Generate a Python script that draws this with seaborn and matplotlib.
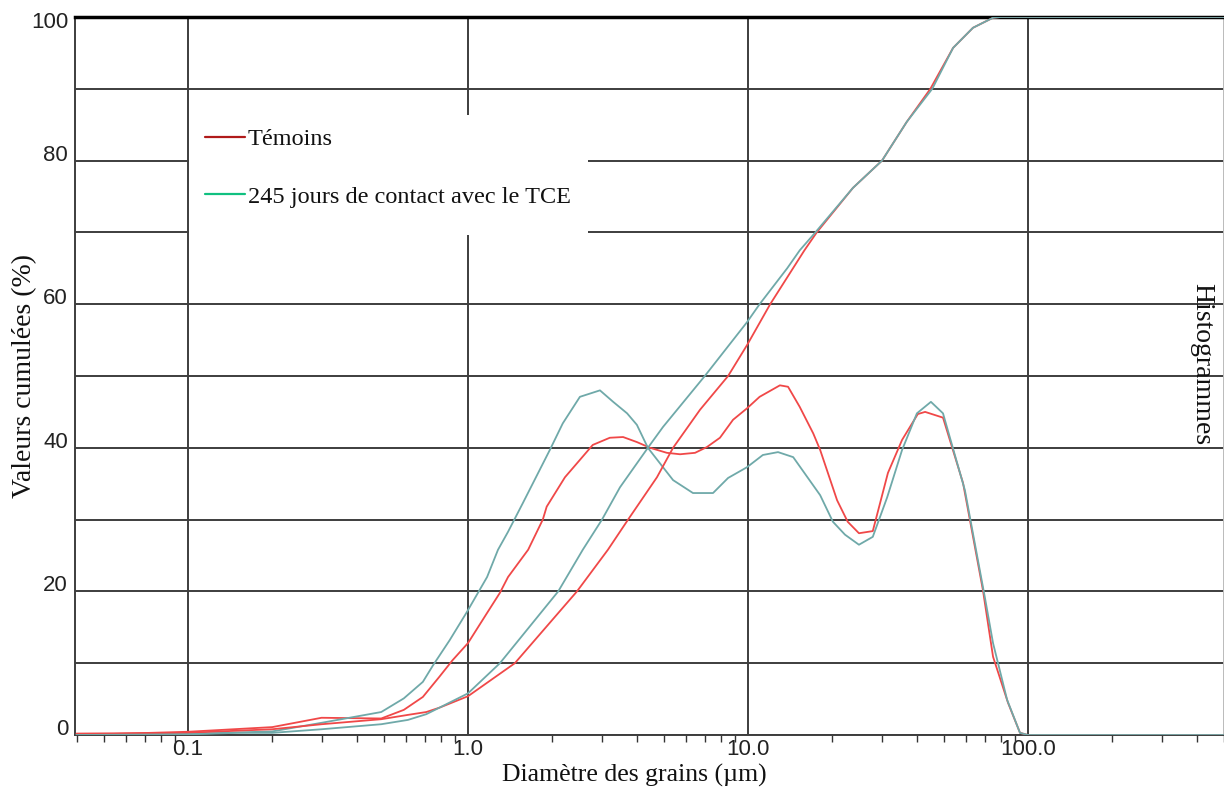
import numpy as np
import pandas as pd
import matplotlib
matplotlib.use("Agg")
import matplotlib.pyplot as plt
import matplotlib.transforms as mtransforms
from matplotlib.lines import Line2D
from matplotlib.patches import Rectangle
from matplotlib.ticker import LogLocator, FixedLocator, FixedFormatter, NullFormatter, MultipleLocator
import seaborn as sns

# ---------------- data ----------------
# Témoins - histogram
tem_hist_d = [0.04, 0.06, 0.1, 0.2, 0.3, 0.49, 0.59, 0.69, 0.79, 0.88, 1.0, 1.17, 1.30, 1.39,
              1.57, 1.64, 1.85, 1.91, 2.22, 2.79, 3.21, 3.58, 4.01, 4.47, 5.13, 5.72, 6.47,
              7.13, 7.94, 8.84, 9.92, 11.0, 13.0, 13.9, 15.3, 17.1, 18.1, 20.8, 22.7, 24.9,
              27.9, 31.6, 35.5, 40.4, 42.9, 49.7, 58.6, 69.0, 75.0, 84.8, 93.6, 100.0, 500.0]
tem_hist_v = [0.0, 0.2, 0.45, 1.1, 2.4, 2.3, 3.5, 5.3, 8.1, 10.4, 12.8, 17.0, 19.8, 22.0,
              24.8, 25.8, 30.0, 31.8, 35.9, 40.4, 41.4, 41.5, 40.8, 40.0, 39.3, 39.1, 39.3,
              40.1, 41.4, 43.9, 45.5, 47.1, 48.7, 48.5, 45.7, 42.0, 39.7, 32.7, 29.7, 28.1,
              28.4, 36.5, 41.1, 44.7, 45.0, 44.2, 35.1, 20.2, 10.9, 4.5, 0.3, 0.0, 0.0]

# 245 jours - histogram
tce_hist_d = [0.04, 0.1, 0.2, 0.3, 0.49, 0.59, 0.69, 0.75, 0.86, 0.99, 1.17, 1.28, 1.39, 1.57,
              1.96, 2.18, 2.51, 2.96, 3.30, 3.70, 4.01, 4.39, 4.97, 5.40, 6.36, 7.50, 8.49,
              9.92, 11.3, 12.8, 14.5, 18.1, 20.1, 22.2, 24.9, 27.9, 31.4, 35.5, 40.1, 45.0,
              49.7, 59.5, 70.1, 75.0, 84.2, 93.6, 100.0, 500.0]
tce_hist_v = [0.0, 0.15, 0.5, 1.7, 3.2, 5.1, 7.4, 9.7, 13.2, 17.1, 22.0, 25.8, 28.3, 32.3,
              39.7, 43.4, 47.1, 48.0, 46.4, 44.8, 43.2, 40.0, 37.3, 35.5, 33.7, 33.7, 35.8,
              37.3, 39.0, 39.4, 38.7, 33.4, 29.7, 27.9, 26.5, 27.6, 33.1, 39.7, 44.8, 46.4,
              44.8, 34.1, 19.2, 12.8, 4.9, 0.3, 0.0, 0.0]

# Témoins - cumulative
tem_cum_d = [0.04, 0.1, 0.15, 0.2, 0.3, 0.49, 0.61, 0.71, 0.79, 1.0, 1.47, 2.45, 3.16, 3.73,
             4.73, 5.40, 6.74, 8.49, 9.92, 12.0, 15.9, 17.6, 23.7, 30.1, 36.9, 44.8, 54.0,
             63.6, 75.0, 80.0, 500.0]
tem_cum_v = [0.2, 0.3, 0.6, 0.8, 1.5, 2.2, 2.8, 3.2, 3.8, 5.4, 10.0, 20.0, 25.8, 30.0,
             35.9, 40.0, 45.3, 50.0, 54.3, 60.0, 67.5, 70.0, 76.2, 80.0, 85.4, 90.0, 95.7,
             98.5, 99.9, 100.0, 100.0]

# 245 jours - cumulative
tce_cum_d = [0.04, 0.1, 0.15, 0.2, 0.3, 0.49, 0.61, 0.71, 0.79, 1.0, 1.30, 2.10, 2.57, 3.01,
             3.49, 4.39, 4.97, 7.01, 9.92, 11.0, 13.8, 15.3, 17.4, 23.7, 30.1, 36.9, 45.5,
             54.0, 63.6, 75.0, 80.0, 500.0]
tce_cum_v = [0.0, 0.1, 0.3, 0.3, 0.8, 1.5, 2.1, 2.9, 3.8, 5.8, 10.0, 20.0, 25.8, 30.0,
             34.5, 40.0, 42.9, 50.0, 57.5, 60.0, 65.0, 67.5, 70.0, 76.2, 80.0, 85.4, 90.0,
             95.7, 98.5, 99.9, 100.0, 100.0]

x_ticks = [0.1, 1.0, 10.0, 100.0]
x_tick_labels = ["0.1", "1.0", "10.0", "100.0"]
y_label_ticks = [0, 20, 40, 60, 80, 100]
legend_labels = ["Témoins", "245 jours de contact avec le TCE"]

# ---------------- styling ----------------
sns.set_theme(style="white")
plt.rcParams["font.family"] = ["Liberation Sans", "DejaVu Sans"]

RED = "#f04848"
TEAL = "#6fa9a9"
LEG_RED = "#b01a1a"
LEG_GREEN = "#10c080"
GRID = "#3d3d3d"
SERIF = ["Liberation Serif", "DejaVu Serif"]

fig = plt.figure(figsize=(12.24, 7.87), dpi=100)
ax = fig.add_axes([75 / 1224, 52 / 787, 1149 / 1224, 718 / 787])
ax.set_xscale("log")

curves = [
    (tem_hist_d, tem_hist_v, RED),
    (tce_hist_d, tce_hist_v, TEAL),
    (tem_cum_d, tem_cum_v, RED),
    (tce_cum_d, tce_cum_v, TEAL),
]
for d, v, c in curves:
    df = pd.DataFrame({"d": d, "v": v})
    sns.lineplot(data=df, x="d", y="v", color=c, lw=1.3, estimator=None,
                 sort=False, ax=ax, zorder=3)

ax.set_xlim(0.0395, 501)
ax.set_ylim(0, 100)

# x ticks
ax.xaxis.set_major_locator(FixedLocator(x_ticks))
ax.xaxis.set_major_formatter(FixedFormatter(x_tick_labels))
ax.xaxis.set_minor_locator(LogLocator(base=10, subs=np.arange(2, 10)))
ax.xaxis.set_minor_formatter(NullFormatter())
ax.tick_params(axis="x", which="major", length=0, pad=3, labelsize=16, labelcolor="#222222")
ax.tick_params(axis="x", which="minor", length=5, width=1.0, direction="out",
               color="#333333", bottom=True)

# y ticks
ax.yaxis.set_major_locator(FixedLocator(y_label_ticks))
ax.yaxis.set_minor_locator(MultipleLocator(10))
ax.tick_params(axis="y", which="both", length=0, pad=5, labelsize=16, labelcolor="#222222")

ax.set_axisbelow(True)
ax.grid(True, which="major", axis="both", color=GRID, lw=1.4)
ax.grid(True, which="minor", axis="y", color=GRID, lw=1.4)
ax.xaxis.grid(False, which="minor")

for side in ["left", "bottom", "right"]:
    ax.spines[side].set_color(GRID)
    ax.spines[side].set_linewidth(1.4)
ax.spines["right"].set_color("#bbbbbb")
ax.spines["top"].set_color("black")
ax.spines["top"].set_linewidth(2.5)

# shift y tick labels slightly up (as in reference)
fig.canvas.draw()
for lab in ax.get_yticklabels():
    txt = lab.get_text()
    dy = -2.5 if txt == "100" else 8
    lab.set_transform(lab.get_transform() +
                      mtransforms.ScaledTranslation(0, dy / 100, fig.dpi_scale_trans))

# labels
ax.set_xlabel("Diamètre des grains (µm)", fontsize=18.5, family=SERIF, color="#111111",
              va="bottom")
ax.xaxis.set_label_coords(0.487, -0.0722)
ax.set_ylabel("Valeurs cumulées (%)", fontsize=20, family=SERIF, color="#111111")
ax.yaxis.set_label_coords(-0.033, 0.5)
ax.text(0.9805, 0.517, "Histogrammes", transform=ax.transAxes, rotation=-90,
        ha="center", va="center", fontsize=20, family=SERIF, color="#111111")

# legend box (white, no frame)
ax.add_patch(Rectangle((0.0992, 0.6964), 0.3473, 0.167, transform=ax.transAxes,
                       facecolor="white", edgecolor="none", zorder=1.5))
handles = [Line2D([], [], color=LEG_RED, lw=1.6), Line2D([], [], color=LEG_GREEN, lw=1.6)]
leg = ax.legend(handles, legend_labels, loc="upper left", bbox_to_anchor=(0.1131, 0.845),
                frameon=False, borderpad=0, borderaxespad=0, handlelength=1.65,
                handletextpad=0.12, labelspacing=1.45,
                prop={"family": SERIF, "size": 17.5})
for t in leg.get_texts():
    t.set_color("#111111")

fig.savefig("out.png", dpi=100)
